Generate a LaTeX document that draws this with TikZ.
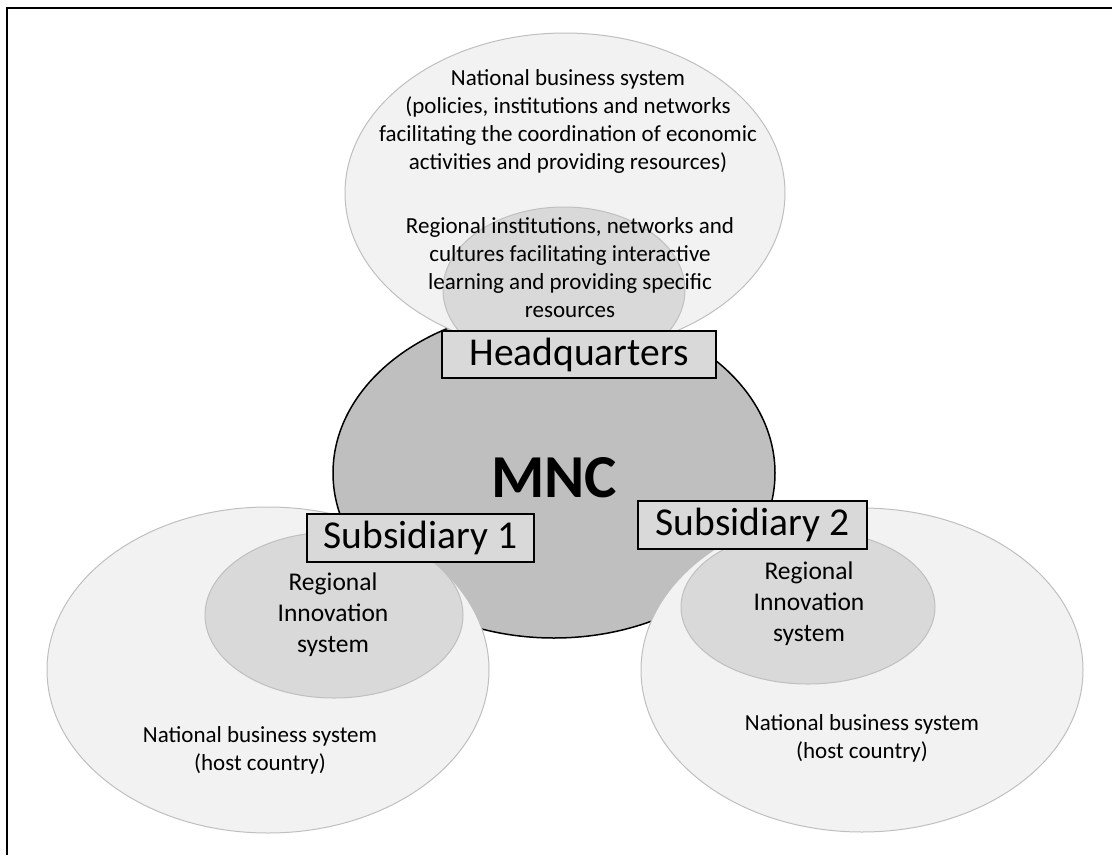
\documentclass[tikz,border=0pt]{standalone}
\usepackage{fontspec}
\setmainfont{Carlito}
\usetikzlibrary{shapes.geometric}
\definecolor{outerfill}{HTML}{F2F2F2}
\definecolor{innerfill}{HTML}{D9D9D9}
\definecolor{softedge}{HTML}{BFBFBF}
\definecolor{corefill}{HTML}{BFBFBF}
\tikzset{
  outerring/.style={ellipse, draw=softedge, fill=outerfill, line width=1pt, inner sep=0pt},
  innerring/.style={ellipse, draw=softedge, fill=innerfill, line width=1pt, inner sep=0pt},
  corering/.style={ellipse, draw=black, fill=corefill, line width=1.5pt, inner sep=0pt},
  labelbox/.style={draw=black, fill=innerfill, line width=1.8pt, inner sep=0pt,
    font=\fontsize{39.5}{44}\selectfont},
  bodytext/.style={align=center, inner sep=0pt, font=\fontsize{23}{28}\selectfont},
  ristext/.style={align=center, inner sep=0pt, font=\fontsize{25.5}{31}\selectfont},
}
\begin{document}
\begin{tikzpicture}[x=1pt, y=-1pt]
\useasboundingbox (0,0) rectangle (1112,855);
% page frame (top and left rule)
\coordinate (fr1) at (1112,8);
\coordinate (fr2) at (7,8);
\coordinate (fr3) at (7,855);
\draw[line width=2.5pt] (fr1) -- (fr2) -- (fr3);

% multinational company
\node[corering, minimum width=442pt, minimum height=330pt] (mnc) at (554,473) {};

% home country: national business system and regional system
\node[outerring, minimum width=440pt, minimum height=320pt] (homeNBS) at (565,193) {};
\node[innerring, minimum width=242pt, minimum height=166pt] (homeRIS) at (564,290) {};

% host country of subsidiary 1
\node[outerring, minimum width=442pt, minimum height=326pt] (hostA) at (268,670) {};
\node[innerring, minimum width=258pt, minimum height=166pt] (risA) at (334,615) {};

% host country of subsidiary 2
\node[outerring, minimum width=442pt, minimum height=324pt] (hostB) at (862,670) {};
\node[innerring, minimum width=254pt, minimum height=154pt] (risB) at (808,607) {};

% labels
\node[labelbox, minimum width=274pt, minimum height=47pt] (hq) at (579,354.5) {Headquarters};
\node[labelbox, minimum width=227pt, minimum height=48pt] (subA) at (420.5,538) {Subsidiary 1};
\node[labelbox, minimum width=229pt, minimum height=48pt] (subB) at (752.5,525) {Subsidiary 2};

\node[inner sep=0pt, font=\fontsize{61}{63}\selectfont\bfseries] (mnctext) at (554,478) {MNC};

\node[bodytext] (homeNBStext) at (568,121) {National business system\\(policies, institutions and networks\\facilitating the coordination of economic\\activities and providing resources)};
\node[bodytext] (homeRIStext) at (570,268) {Regional institutions, networks and\\cultures facilitating interactive\\learning and providing specific\\resources};

\node[ristext] (risAtext) at (333,615) {Regional\\Innovation\\system};
\node[bodytext] (hostAtext) at (260,750) {National business system\\(host country)};

\node[ristext] (risBtext) at (809,604) {Regional\\Innovation\\system};
\node[bodytext] (hostBtext) at (862,738.5) {National business system\\(host country)};
\end{tikzpicture}
\end{document}
